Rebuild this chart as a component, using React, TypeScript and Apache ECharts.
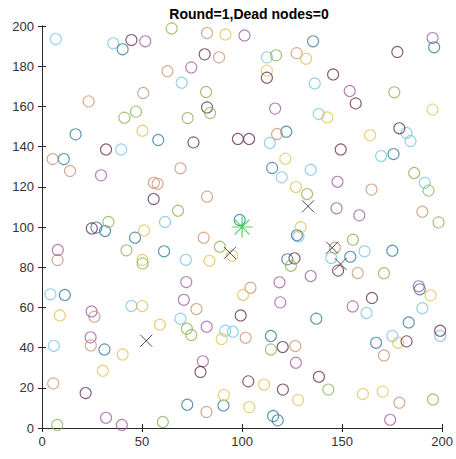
import React, { useEffect, useRef } from "react";
import * as echarts from "echarts";

const titleText = "Round=1,Dead nodes=0";
const xTicks = [0, 50, 100, 150, 200];
const yTicks = [0, 20, 40, 60, 80, 100, 120, 140, 160, 180, 200];

const lightBlue: number[][] = [
  [6.9, 193.5], [35.6, 191.4], [39.6, 138.6], [61.5, 102.5], [4.2, 66.5], [44.7, 60.7], [5.9, 40.9],
  [69.2, 54.4], [91.6, 48.4], [95.4, 47.9], [112.4, 184.4], [69.8, 171.8], [113.9, 141.8], [71.9, 83.7],
  [119.8, 124.7], [136.3, 171.4], [138.3, 156.2], [182.2, 146.8], [184.2, 142.8], [169.5, 135.3],
  [134.3, 128.5], [191.3, 122], [128.2, 95.3], [144.6, 84.6], [161.2, 87.9], [162.2, 57.2], [190.1, 59.6],
  [199, 45.8], [175.1, 45.8],
];
const teal: number[][] = [
  [40.3, 188.4], [58.1, 143.3], [16.8, 146.1], [10.9, 133.8], [27.2, 99.7], [31.5, 98], [46.5, 94.7],
  [61, 87.9], [11.4, 66.2], [31.2, 39.1], [72.6, 11.6], [90.7, 11.2], [115.5, 6], [117.8, 3.8],
  [114.4, 45.8], [137.1, 54.4], [183.3, 52.5], [167, 42.4], [175.7, 136.3], [154.1, 85.2], [175.1, 88.2],
  [188.8, 69], [135.5, 192.4], [196, 189.4], [122.1, 147.4], [115, 129.4], [98.8, 103.5], [127.4, 95.9],
  [122.6, 83.9],
];
const tan: number[][] = [
  [62.7, 177.5], [50.6, 166.7], [23.3, 162.5], [5.3, 133.8], [14, 127.9], [55.9, 122], [57.8, 121.5],
  [7.8, 83.6], [26.2, 55.4], [24.4, 41.1], [5.6, 22.2], [82.2, 8], [178.6, 12.6], [104.2, 69.8],
  [77.2, 59.2], [101.8, 44.9], [126.6, 40.8], [170.9, 36.1], [164.7, 118.6], [190.1, 107.6],
  [146.4, 89.7], [157.8, 77.1], [127.3, 186.5], [82.5, 196.5], [88.5, 184.4], [117.5, 146.3],
  [69.2, 129.2], [82.5, 115.1], [80.8, 94.7],
];
const yellow: number[][] = [
  [50.2, 147.9], [51, 98.3], [50.2, 83.6], [8.9, 56], [50.1, 60.7], [58.9, 51.4], [40.3, 36.6],
  [30.4, 28.5], [103.6, 10.4], [128, 13.9], [100.5, 66.2], [89.8, 44.3], [111, 21.6], [90.9, 16.4],
  [194.2, 66], [178, 42.4], [160.4, 16.9], [170.3, 18.1], [129.3, 99.9], [132, 183.7], [195.2, 158.4],
  [142.6, 154.5], [164, 145.6], [91.7, 195.8], [112.4, 177.8], [121.6, 134], [126.9, 119.9],
  [95, 85.7], [83.7, 83.2],
];
const purple: number[][] = [
  [51.6, 192.4], [29.5, 125.7], [7.9, 88.6], [24.8, 58], [24.3, 45.1], [32, 5.1], [39.9, 1.5],
  [174, 4.1], [70.9, 63.8], [119.1, 62.5], [82.3, 50.4], [126.9, 32.5], [80.4, 33.2], [188.3, 70.5],
  [155.3, 60.5], [147.7, 122.5], [147.2, 109.3], [158.6, 105.8], [134.3, 75.6], [195.2, 194],
  [153.8, 167.7], [101.2, 195.3], [74.6, 179.4], [116.5, 158.9], [72.1, 72.6], [118.7, 72.5],
];
const maroon: number[][] = [
  [44.7, 193], [32, 138.6], [55.8, 113.9], [24.9, 99.3], [21.8, 17.4], [99.3, 56], [120.3, 40.3],
  [79.2, 27.9], [103.1, 23.2], [120.4, 19.1], [164.9, 64.7], [199, 48.4], [182.2, 43.1], [138.4, 25.5],
  [149.3, 138.6], [148, 78.3], [177.6, 187.1], [145.5, 175.9], [156.8, 161.5], [178.6, 149.1],
  [81.3, 185.9], [112.4, 174.3], [82.5, 159.5], [75.7, 142.1], [97.9, 143.8], [103.5, 143.8],
  [126.2, 84.4],
];
const green: number[][] = [
  [64.8, 198.8], [47, 157.4], [41.2, 154.4], [33.2, 102.5], [42.2, 88.4], [50.3, 81.9], [7.6, 1.5],
  [60.4, 3], [195.4, 14.2], [72.4, 49.4], [74.6, 46.3], [114.4, 39.1], [143.1, 19.1], [186, 126.9],
  [193.2, 118.1], [132.5, 116.4], [198.2, 102.3], [155.4, 93.7], [170.9, 77], [176.1, 167], [117, 185.4],
  [82, 167.2], [84, 156.7], [72.8, 154.2], [68, 108.1], [88.9, 90.2], [124.4, 80.7],
];
const crossNodes: number[][] = [
  [52.1, 43.4], [93.9, 87.1], [133, 110.3], [145, 89.7], [149.2, 81.6],
];
const sinkNode: number[][] = [[100, 100]];

const groups: { data: number[][]; color: string }[] = [
  { data: lightBlue, color: "#78c4e4" },
  { data: teal, color: "#337b9f" },
  { data: tan, color: "#cc9470" },
  { data: yellow, color: "#e2c255" },
  { data: purple, color: "#a45ca6" },
  { data: maroon, color: "#6d2e4f" },
  { data: green, color: "#8fb257" },
];

const font = "'Liberation Sans', Arial, sans-serif";

export default function App() {
  const ref = useRef<HTMLDivElement>(null);
  useEffect(() => {
    document.body.style.margin = "0";
    const chart = echarts.init(ref.current!, null, { renderer: "svg" });
    const circleSeries = groups.map((g) => ({
      type: "scatter",
      data: g.data,
      symbol: "circle",
      symbolSize: 11,
      itemStyle: { color: "rgba(0,0,0,0)", borderColor: g.color, borderWidth: 1.1 },
      emphasis: { disabled: true },
      z: 3,
    }));
    const axisCommon = {
      type: "value",
      min: 0,
      max: 200,
      splitLine: { show: false },
      axisLine: { show: true, lineStyle: { color: "#262626", width: 1 } },
      axisTick: { show: true, inside: true, length: 4, lineStyle: { color: "#262626" } },
    };
    chart.setOption({
      animation: false,
      backgroundColor: "#ffffff",
      title: {
        text: titleText,
        left: 244,
        textAlign: "center",
        top: 2,
        textStyle: { fontFamily: font, fontSize: 14, fontWeight: "bold", color: "#000" },
      },
      grid: { left: 42, right: 11, top: 26, bottom: 31 },
      xAxis: [
        {
          ...axisCommon,
          position: "bottom",
          interval: 50,
          axisLabel: { color: "#333333", fontFamily: font, fontSize: 13, margin: 7,
            formatter: (v: number) => (xTicks.includes(v) ? String(v) : "") },
        },
        {
          ...axisCommon,
          position: "top",
          interval: 50,
          axisLabel: { show: false },
        },
      ],
      yAxis: [
        {
          ...axisCommon,
          position: "left",
          interval: 20,
          axisLabel: { color: "#333333", fontFamily: font, fontSize: 13, margin: 8,
            formatter: (v: number) => (yTicks.includes(v) ? String(v) : "") },
        },
        {
          ...axisCommon,
          position: "right",
          interval: 20,
          axisLabel: { show: false },
        },
      ],
      series: [
        ...circleSeries,
        {
          type: "scatter",
          data: crossNodes,
          symbol: "path://M-5,-5L5,5M-5,5L5,-5",
          symbolSize: 12,
          itemStyle: { color: "rgba(0,0,0,0)", borderColor: "#222222", borderWidth: 1 },
          emphasis: { disabled: true },
          z: 4,
        },
        {
          type: "scatter",
          data: sinkNode,
          symbol: "path://M0,-10L0,10M-10,0L10,0M-7,-7L7,7M-7,7L7,-7",
          symbolSize: 21,
          itemStyle: { color: "rgba(0,0,0,0)", borderColor: "#22cc33", borderWidth: 1.2 },
          emphasis: { disabled: true },
          z: 5,
        },
      ],
    });
    return () => chart.dispose();
  }, []);
  return (
    <div
      ref={ref}
      style={{ position: "absolute", left: 0, top: 0, width: 456, height: 459 }}
    />
  );
}
